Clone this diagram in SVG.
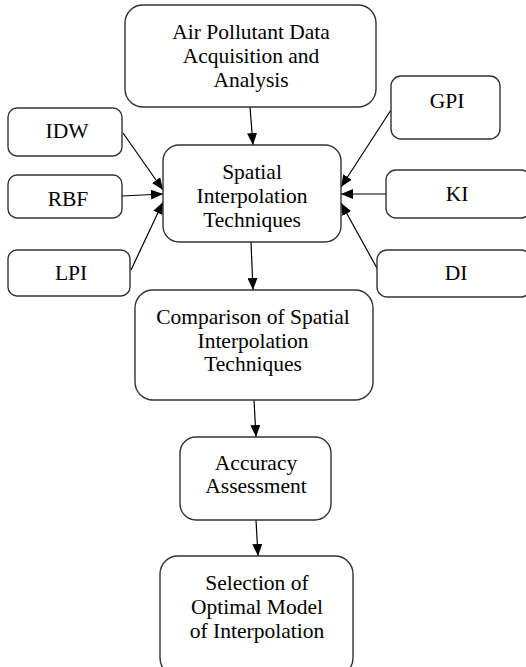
<svg xmlns="http://www.w3.org/2000/svg" width="526" height="667" viewBox="0 0 526 667">
<style>
.box{fill:#fff;stroke:#333;stroke-width:1.4}
.t{font-family:"Liberation Serif",serif;font-size:21.5px;fill:#000;text-anchor:middle}
.c{stroke:#000;stroke-width:1.2;fill:none;marker-end:url(#ah)}
</style>
<defs>
<marker id="ah" viewBox="0 0 12 10" refX="12" refY="5" markerWidth="12" markerHeight="10" markerUnits="userSpaceOnUse" orient="auto">
<path d="M0,0 L12,5 L0,10 Z" fill="#000"/>
</marker>
</defs>
<rect width="526" height="667" fill="#fff"/>
<g id="connectors">
<line class="c" x1="250" y1="107" x2="253" y2="145"/>
<line class="c" x1="251" y1="242" x2="253" y2="290"/>
<line class="c" x1="254" y1="400" x2="256" y2="437"/>
<line class="c" x1="256" y1="520" x2="258" y2="556"/>
<line class="c" x1="123" y1="133" x2="163" y2="190"/>
<line class="c" x1="122" y1="196" x2="163" y2="194"/>
<line class="c" x1="131" y1="270" x2="163" y2="202"/>
<line class="c" x1="391" y1="110" x2="341" y2="187"/>
<line class="c" x1="386" y1="194" x2="341" y2="194"/>
<line class="c" x1="378" y1="270" x2="341" y2="203"/>
</g>
<g id="n-air">
<rect class="box" x="125" y="5" width="251" height="102" rx="18"/>
<text class="t" x="251" y="39">Air Pollutant Data</text>
<text class="t" x="251" y="63">Acquisition and</text>
<text class="t" x="251" y="87">Analysis</text>
</g>
<g id="n-spatial">
<rect class="box" x="163" y="145" width="178" height="97" rx="16"/>
<text class="t" x="252" y="179">Spatial</text>
<text class="t" x="252" y="203">Interpolation</text>
<text class="t" x="252" y="227">Techniques</text>
</g>
<g id="n-idw">
<rect class="box" x="8" y="108" width="114" height="48" rx="9"/>
<text class="t" x="67" y="138">IDW</text>
</g>
<g id="n-rbf">
<rect class="box" x="8" y="175" width="114" height="43" rx="9"/>
<text class="t" x="68" y="206">RBF</text>
</g>
<g id="n-lpi">
<rect class="box" x="8" y="250" width="122" height="46" rx="9"/>
<text class="t" x="71" y="280">LPI</text>
</g>
<g id="n-gpi">
<rect class="box" x="391" y="76" width="109" height="63" rx="10"/>
<text class="t" x="447" y="108">GPI</text>
</g>
<g id="n-ki">
<rect class="box" x="386" y="170" width="145" height="48" rx="10"/>
<text class="t" x="457" y="201">KI</text>
</g>
<g id="n-di">
<rect class="box" x="377" y="250" width="154" height="47" rx="10"/>
<text class="t" x="456" y="280">DI</text>
</g>
<g id="n-comparison">
<rect class="box" x="135" y="290" width="238" height="110" rx="18"/>
<text class="t" x="253" y="324">Comparison of Spatial</text>
<text class="t" x="253" y="348">Interpolation</text>
<text class="t" x="253" y="371">Techniques</text>
</g>
<g id="n-accuracy">
<rect class="box" x="180" y="437" width="151" height="83" rx="16"/>
<text class="t" x="256" y="470">Accuracy</text>
<text class="t" x="256" y="493">Assessment</text>
</g>
<g id="n-selection">
<rect class="box" x="160" y="556" width="193" height="120" rx="18"/>
<text class="t" x="257" y="590">Selection of</text>
<text class="t" x="257" y="614">Optimal Model</text>
<text class="t" x="257" y="638">of Interpolation</text>
</g>
</svg>
